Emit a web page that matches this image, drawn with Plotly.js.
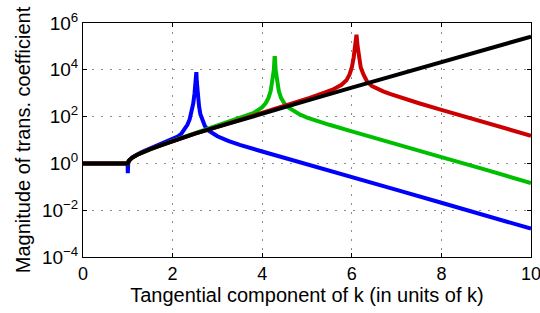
<!DOCTYPE html>
<html>
<head>
<meta charset="utf-8">
<script src="https://cdn.plot.ly/plotly-3.0.1.min.js"></script>
<style>html,body{margin:0;padding:0;background:#fff;}#chart{width:540px;height:313px;}</style>
</head>
<body>
<div id="chart"></div>
<script>
// Tangential component of k (in units of k) and log10 of |transmission coefficient|
var kBlack = [0, 1, 1.02, 1.05, 1.1, 1.2, 1.3, 1.4, 1.5, 1.75, 2, 2.5, 3, 3.5, 4, 5, 6, 7, 8, 9, 10];
var logBlack = [0, 0, 0.11, 0.17, 0.25, 0.36, 0.45, 0.53, 0.61, 0.78, 0.95, 1.27, 1.56, 1.85, 2.13, 2.68, 3.24, 3.78, 4.32, 4.87, 5.42];

var kBlue = [0, 0.99, 0.997, 1.0, 1.003, 1.01, 1.05, 1.1, 1.3, 1.5, 1.75, 2.0, 2.1, 2.2, 2.27, 2.33, 2.38, 2.42, 2.46, 2.49, 2.51, 2.52, 2.53, 2.54, 2.56, 2.59, 2.62, 2.66, 2.72, 2.79, 2.9, 3.0, 3.24, 3.5, 4.0, 5.0, 6.0, 7.0, 8.0, 9.0, 10.0];
var logBlue = [0, 0, -0.15, -0.42, -0.15, 0.03, 0.17, 0.26, 0.47, 0.64, 0.83, 1.03, 1.13, 1.28, 1.45, 1.65, 1.88, 2.15, 2.55, 3.0, 3.5, 3.9, 3.9, 3.5, 3.0, 2.45, 2.1, 1.85, 1.6, 1.42, 1.27, 1.16, 0.96, 0.79, 0.51, -0.05, -0.58, -1.13, -1.68, -2.23, -2.79];

var kGreen = [0, 0.995, 1.0, 1.005, 1.02, 1.05, 1.1, 1.2, 1.3, 1.4, 1.5, 1.75, 2, 2.5, 3, 3.5, 3.8, 3.9, 4.0, 4.08, 4.14, 4.19, 4.23, 4.26, 4.275, 4.285, 4.30, 4.33, 4.37, 4.42, 4.5, 4.6, 4.7, 4.82, 5.0, 5.2, 5.5, 6.0, 7.0, 8.0, 9.0, 10.0];
var logGreen = [0, 0, -0.06, 0.0, 0.11, 0.17, 0.25, 0.36, 0.45, 0.53, 0.61, 0.78, 0.96, 1.29, 1.6, 1.92, 2.15, 2.27, 2.4, 2.58, 2.8, 3.1, 3.5, 4.0, 4.5, 4.5, 4.0, 3.5, 3.1, 2.8, 2.55, 2.37, 2.24, 2.11, 1.96, 1.82, 1.65, 1.37, 0.8, 0.27, -0.28, -0.84];

var kRed = [0, 1, 1.02, 1.05, 1.1, 1.2, 1.3, 1.4, 1.5, 1.75, 2, 2.5, 3, 3.5, 4, 4.5, 5.06, 5.39, 5.6, 5.77, 5.88, 5.95, 6.0, 6.04, 6.07, 6.095, 6.105, 6.13, 6.16, 6.2, 6.26, 6.34, 6.45, 6.56, 6.7, 6.85, 7.0, 7.5, 8, 9, 10];
var logRed = [0, 0, 0.11, 0.17, 0.25, 0.36, 0.45, 0.53, 0.61, 0.78, 0.95, 1.27, 1.56, 1.86, 2.15, 2.44, 2.8, 3.02, 3.18, 3.36, 3.55, 3.8, 4.1, 4.5, 5.0, 5.5, 5.5, 5.0, 4.5, 4.1, 3.8, 3.5, 3.3, 3.19, 3.08, 2.97, 2.87, 2.57, 2.29, 1.73, 1.18];

var xTickVals = [0, 2, 4, 6, 8, 10];
var yTickVals = [1e-4, 1e-2, 1e0, 1e2, 1e4, 1e6];
var yTickText = ['10<sup>\u22124</sup>', '10<sup>\u22122</sup>', '10<sup>0</sup>', '10<sup>2</sup>', '10<sup>4</sup>', '10<sup>6</sup>'];

function mag(arr) { return arr.map(function (v) { return Math.pow(10, v); }); }

var LW = 4;
var traces = [
  {x: kBlue, y: mag(logBlue), mode: 'lines', line: {color: '#0000ff', width: LW}},
  {x: kGreen, y: mag(logGreen), mode: 'lines', line: {color: '#00bf00', width: LW}},
  {x: kRed, y: mag(logRed), mode: 'lines', line: {color: '#cc0000', width: LW}},
  {x: kBlack, y: mag(logBlack), mode: 'lines', line: {color: '#000000', width: LW}}
];

var fontFam = '"Liberation Sans", Arial, Helvetica, sans-serif';
var layout = {
  width: 540, height: 313,
  margin: {l: 83, r: 9, t: 23, b: 56},
  paper_bgcolor: '#ffffff', plot_bgcolor: '#ffffff',
  showlegend: false,
  font: {family: fontFam, size: 20, color: '#000'},
  xaxis: {
    range: [0, 10], tickmode: 'array', tickvals: xTickVals,
    ticks: 'inside', ticklen: 4, tickcolor: '#000', tickwidth: 1,
    showline: true, linecolor: '#000', linewidth: 1, mirror: 'ticks',
    showgrid: true, gridcolor: '#8c8c8c', griddash: '2px,7px', gridwidth: 1,
    zeroline: false, ticklabeloverflow: 'allow',
    tickfont: {size: 18, color: '#000'},
    title: {text: 'Tangential component of k (in units of k)', font: {size: 20, color: '#000'}, standoff: 3}
  },
  yaxis: {
    type: 'log', range: [-4, 6], tickmode: 'array', tickvals: yTickVals, ticktext: yTickText,
    ticks: 'inside', ticklen: 4, tickcolor: '#000', tickwidth: 1,
    showline: true, linecolor: '#000', linewidth: 1, mirror: 'ticks',
    showgrid: true, gridcolor: '#8c8c8c', griddash: '2px,7px', gridwidth: 1,
    zeroline: false, ticklabeloverflow: 'allow',
    tickfont: {size: 19, color: '#000'},
    title: {text: 'Magnitude of trans. coefficient', font: {size: 20, color: '#000'}, standoff: 5}
  }
};

Plotly.newPlot('chart', traces, layout, {displayModeBar: false, staticPlot: true});
</script>
</body>
</html>
